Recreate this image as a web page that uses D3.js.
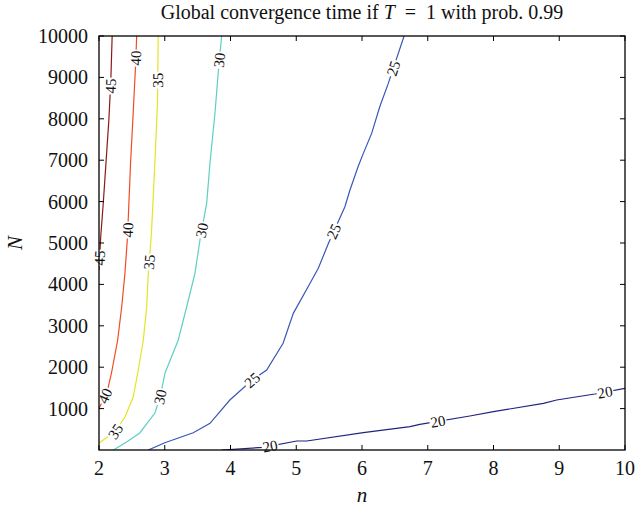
<!DOCTYPE html>
<html><head><meta charset="utf-8">
<script src="https://cdn.jsdelivr.net/npm/d3@7"></script>
<style>body{margin:0;background:#fff}svg{display:block}</style>
</head><body>
<svg id="c" width="636" height="514"></svg>
<script>
const xTicks = [2,3,4,5,6,7,8,9,10];
const yTicks = [1000,2000,3000,4000,5000,6000,7000,8000,9000,10000];
const levels = [45,40,35,30,25,20];
const colors = ["#8a1a1a","#f24a26","#e4e422","#5ccfc4","#3a56b8","#23237f"];
const c45 = [[2.20,10000],[2.18,8935],[2.15,7970],[2.106,6930],[2.065,5965],[2.026,5144],[2.0,4350]];
const c40 = [[2.573,10000],[2.558,9346],[2.52,8139],[2.48,6931],[2.446,5627],[2.43,5072],[2.395,4274],[2.345,3454],[2.284,2657],[2.19,1860],[2.13,1449],[2.076,1256],[2.0,1000]];
const c35 = [[2.90,10000],[2.89,8380],[2.85,6930],[2.80,5313],[2.79,5072],[2.75,4274],[2.725,3454],[2.674,2657],[2.589,1860],[2.52,1280],[2.395,797],[2.25,450],[2.065,241],[2.0,170]];
const c30 = [[3.866,10000],[3.825,9346],[3.764,8139],[3.688,6931],[3.638,5965],[3.536,5072],[3.46,4274],[3.333,3454],[3.206,2657],[3.004,1860],[2.93,1280],[2.85,894],[2.62,411],[2.42,193],[2.22,0]];
const c25 = [[2.75,0],[3.0,176],[3.434,418],[3.688,645],[3.99,1207],[4.33,1690],[4.55,1932],[4.80,2577],[4.955,3301],[5.21,4026],[5.335,4388],[5.49,4992],[5.74,5876],[5.817,6279],[5.94,6841],[6.02,7165],[6.147,7648],[6.27,8290],[6.40,8855],[6.64,10000]];
const c20 = [[3.866,0],[4.50,65],[5.007,217],[5.16,217],[6.02,418],[6.73,563],[6.88,620],[7.64,821],[8.0,925],[8.76,1128],[8.96,1208],[9.54,1352],[10,1490]];
const contours = [c45,c40,c35,c30,c25,c20];
const labels45 = [[2.18,8790],[2.03,4637]];
const labels40 = [[2.563,9467],[2.449,5313],[2.106,1300]];
const labels35 = [[2.897,8935],[2.76,4540],[2.26,435]];
const labels30 = [[3.825,9418],[3.55,5313],[2.94,1280]];
const labels25 = [[6.47,9225],[5.56,5289],[4.33,1690]];
const labels20 = [[4.60,121],[7.156,688],[9.696,1389]];
const labelSets = [labels45,labels40,labels35,labels30,labels25,labels20];

const W=636,H=514, m={l:99,t:36,r:11,b:64};
const svg=d3.select("#c");
const x=d3.scaleLinear().domain([2,10]).range([m.l,W-m.r]);
const y=d3.scaleLinear().domain([0,10000]).range([H-m.b,m.t]);
const font="'Liberation Serif','DejaVu Serif',serif";

svg.append("defs").append("clipPath").attr("id","clip").append("rect")
  .attr("x",m.l).attr("y",m.t).attr("width",W-m.l-m.r).attr("height",H-m.t-m.b);

const line=d3.line().x(d=>x(d[0])).y(d=>y(d[1]));
const g=svg.append("g").attr("clip-path","url(#clip)");
contours.forEach((c,i)=>{
  g.append("path").attr("d",line(c)).attr("fill","none").attr("stroke",colors[i]).attr("stroke-width",1.2);
});

const lg=svg.append("g");
labelSets.forEach((ls,i)=>{
  const pts=contours[i].map(d=>[x(d[0]),y(d[1])]);
  ls.forEach(l=>{
    const px=x(l[0]),py=y(l[1]);
    let best=null;
    for(let k=0;k<pts.length-1;k++){
      const a=pts[k],b=pts[k+1];
      const dx=b[0]-a[0],dy=b[1]-a[1];
      let t=((px-a[0])*dx+(py-a[1])*dy)/(dx*dx+dy*dy);t=Math.max(0,Math.min(1,t));
      const qx=a[0]+t*dx,qy=a[1]+t*dy;const dd=(qx-px)**2+(qy-py)**2;
      if(!best||dd<best.d)best={d:dd,x:qx,y:qy,ang:Math.atan2(dy,dx)*180/Math.PI};
    }
    let ang=best.ang; if(ang>90)ang-=180; if(ang<-90)ang+=180;
    const gg=lg.append("g").attr("transform",`translate(${best.x},${best.y}) rotate(${ang})`);
    const r=gg.append("rect").attr("fill","#fff");
    const t=gg.append("text").text(levels[i]).attr("text-anchor","middle").attr("dy","0.35em")
      .attr("font-family",font).attr("font-size",15).attr("fill","#111");
    const bb=t.node().getBBox();
    r.attr("x",bb.x-1).attr("y",-4).attr("width",bb.width+2).attr("height",8);
  });
});

const ax=svg.append("g").attr("font-family",font);
ax.append("rect").attr("x",m.l).attr("y",m.t).attr("width",W-m.l-m.r).attr("height",H-m.t-m.b)
  .attr("fill","none").attr("stroke","#000").attr("stroke-width",1.3);
const tl=5;
xTicks.forEach(v=>{
  ax.append("line").attr("x1",x(v)).attr("x2",x(v)).attr("y1",H-m.b).attr("y2",H-m.b-tl).attr("stroke","#000");
  ax.append("line").attr("x1",x(v)).attr("x2",x(v)).attr("y1",m.t).attr("y2",m.t+tl).attr("stroke","#000");
  ax.append("text").attr("x",x(v)).attr("y",H-m.b+25).attr("text-anchor","middle")
    .attr("font-size",20).attr("fill","#111").text(v);
});
yTicks.forEach(v=>{
  ax.append("line").attr("x1",m.l).attr("x2",m.l+tl).attr("y1",y(v)).attr("y2",y(v)).attr("stroke","#000");
  ax.append("line").attr("x1",W-m.r).attr("x2",W-m.r-tl).attr("y1",y(v)).attr("y2",y(v)).attr("stroke","#000");
  ax.append("text").attr("x",m.l-11).attr("y",y(v)).attr("dy","0.35em").attr("text-anchor","end")
    .attr("font-size",20).attr("fill","#111").text(v);
});
ax.append("text").attr("x",(m.l+W-m.r)/2).attr("y",H-12).attr("text-anchor","middle")
  .attr("font-size",21).attr("font-style","italic").attr("fill","#111").text("n");
ax.append("text").attr("transform",`translate(22,${(m.t+H-m.b)/2}) rotate(-90)`).attr("text-anchor","middle")
  .attr("font-size",21).attr("font-style","italic").attr("fill","#111").text("N");
const title=ax.append("text").attr("x",(m.l+W-m.r)/2).attr("y",19).attr("text-anchor","middle")
  .attr("font-size",20).attr("fill","#111");
title.append("tspan").text("Global convergence time if ");
title.append("tspan").attr("font-style","italic").text("T");
title.append("tspan").text("\u2002=\u20021 with prob. 0.99");
</script>
</body></html>
